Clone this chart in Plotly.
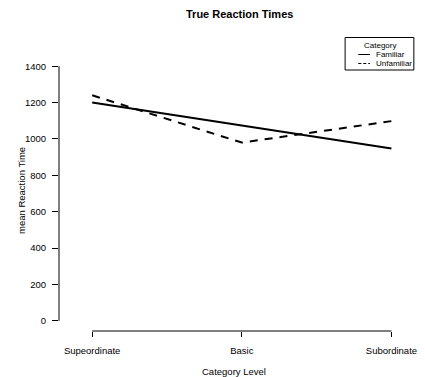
import plotly.graph_objects as go

# ---- data ----
levels = ["Supeordinate", "Basic", "Subordinate"]
level_pos = [1, 2, 3]
series_names = ["Familiar", "Unfamiliar"]
familiar = [1200, 1075, 948]
unfamiliar = [1240, 980, 1098]
y_ticks = [0, 200, 400, 600, 800, 1000, 1200, 1400]

W, H = 425, 377
L, R, T, B = 59, 417, 56, 331  # plot region in pixels

def px(x):
    return (x - L) / (R - L)

def py(y):
    return (B - y) / (B - T)

FONT = "Liberation Sans, Arial, Helvetica, sans-serif"
FS = 9.5
LFS = 8

fig = go.Figure()
fig.add_trace(go.Scatter(x=level_pos, y=familiar, mode="lines", name=series_names[0],
                         line=dict(color="black", width=2, dash="solid"), showlegend=False))
fig.add_trace(go.Scatter(x=level_pos, y=unfamiliar, mode="lines", name=series_names[1],
                         line=dict(color="black", width=2, dash="8px,7px"), showlegend=False))

# x-range: ticks at 93, 246, 400 px
ppu = (400 - 93) / 2.0
xr = [1 - (93 - L) / ppu, 3 + (R - 400) / ppu]
yr = [-0.04 * 1400, 1400 * 1.04]

shapes = [
    # y axis line (0..1400)
    dict(type="line", xref="paper", yref="y", x0=0, x1=0, y0=0, y1=1400,
         line=dict(color="black", width=1)),
    # x axis line (1..3)
    dict(type="line", xref="x", yref="paper", x0=1, x1=3, y0=0, y1=0,
         line=dict(color="black", width=1)),
    # legend box
    dict(type="rect", xref="paper", yref="paper", x0=px(352.5), x1=px(423), y0=py(70), y1=py(37.5),
         line=dict(color="black", width=1), fillcolor="white"),
    dict(type="line", xref="paper", yref="paper", x0=px(366), x1=px(378), y0=py(54.5), y1=py(54.5),
         line=dict(color="black", width=1)),
    dict(type="line", xref="paper", yref="paper", x0=px(366), x1=px(378), y0=py(63.5), y1=py(63.5),
         line=dict(color="black", width=1, dash="3px,2px")),
]

annotations = [
    dict(text="<b>True Reaction Times</b>", xref="paper", yref="paper", x=px(244), y=py(14),
         showarrow=False, xanchor="center", yanchor="middle", font=dict(size=11, color="black", family=FONT)),
    dict(text="Category Level", xref="paper", yref="paper", x=px(238), y=py(371),
         showarrow=False, xanchor="center", yanchor="middle", font=dict(size=FS, color="black", family=FONT)),
    dict(text="mean Reaction Time", xref="paper", yref="paper", x=px(20), y=py(190), textangle=-90,
         showarrow=False, xanchor="center", yanchor="middle", font=dict(size=FS, color="black", family=FONT)),
    dict(text="Category", xref="paper", yref="paper", x=px(388), y=py(45.5),
         showarrow=False, xanchor="center", yanchor="middle", font=dict(size=LFS, color="black", family=FONT)),
    dict(text=series_names[0], xref="paper", yref="paper", x=px(382), y=py(54.5),
         showarrow=False, xanchor="left", yanchor="middle", font=dict(size=LFS, color="black", family=FONT)),
    dict(text=series_names[1], xref="paper", yref="paper", x=px(382), y=py(63.5),
         showarrow=False, xanchor="left", yanchor="middle", font=dict(size=LFS, color="black", family=FONT)),
]

fig.update_layout(
    width=W, height=H,
    margin=dict(l=L, r=W - R, t=T, b=H - B, pad=0),
    paper_bgcolor="white", plot_bgcolor="white",
    font=dict(family=FONT, size=FS, color="black"),
    showlegend=False,
    shapes=shapes,
    annotations=annotations,
    xaxis=dict(range=xr, tickvals=level_pos, ticktext=levels, ticks="outside", ticklen=5,
               tickwidth=1, tickcolor="black", showline=False, showgrid=False, zeroline=False,
               ticklabelstandoff=6, ticklabeloverflow="allow",
               tickfont=dict(size=FS, family=FONT, color="black")),
    yaxis=dict(range=yr, tickvals=y_ticks, ticks="outside", ticklen=6, tickwidth=1,
               tickcolor="black", showline=False, showgrid=False, zeroline=False,
               ticklabelstandoff=4, tickfont=dict(size=FS, family=FONT, color="black")),
)

fig.write_html(
    "out.html",
    config={"displayModeBar": False},
    post_script="document.body.style.margin='0';document.body.style.padding='0';"
                "document.documentElement.style.overflow='hidden';",
)
